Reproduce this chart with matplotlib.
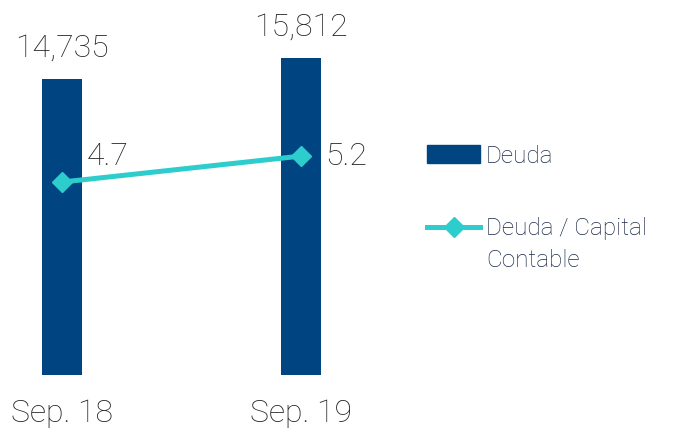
import matplotlib
matplotlib.use("Agg")
import matplotlib.pyplot as plt
from matplotlib.lines import Line2D
from matplotlib.patches import Patch

plt.rcParams['font.family'] = ['Roboto', 'DejaVu Sans']

periods = ['Sep. 18', 'Sep. 19']
deuda = [14735, 15812]
ratio = [4.7, 5.2]

navy = '#004481'
aqua = '#2DCCCD'
txt = '#222222'
legtxt = '#1A2948'

fig = plt.figure(figsize=(6.77, 4.32), dpi=100)
ax = fig.add_axes([0.0, 0.132, 0.535, 0.845])
x = range(len(periods))
ax.bar(x, deuda, width=0.167, color=navy, zorder=1)
ax.set_xlim(-0.259, 1.255)
ax.set_ylim(0, 18200)

for i, v in enumerate(deuda):
    ax.annotate(f'{v:,}', (i, v), xytext=(0, 12), textcoords='offset points',
                ha='center', va='bottom', fontsize=23, color=txt, fontweight='light')

ax2 = ax.twinx()
ax2.plot(x, ratio, color=aqua, lw=3.6, marker='D', markersize=10, zorder=3)
ax2.set_ylim(0.99, 8.01)
ax2.annotate(f'{ratio[0]}', (0, ratio[0]), xytext=(18, 8), textcoords='offset points',
             ha='left', va='bottom', fontsize=23, color=txt, fontweight='light')
ax2.annotate(f'{ratio[1]}', (1, ratio[1]), xytext=(17, 0), textcoords='offset points',
             ha='left', va='center', fontsize=23, color=txt, fontweight='light')

for a in (ax, ax2):
    for s in a.spines.values():
        s.set_visible(False)
    a.set_yticks([])
ax.set_xticks(list(x))
ax.set_xticklabels(periods, fontsize=23, color=txt, fontweight='light')
ax.tick_params(axis='x', length=0, pad=17)

handles = [Patch(color=navy),
           Line2D([0], [0], color=aqua, lw=3.6, marker='D', markersize=10)]
leg = fig.legend(handles, ['Deuda', 'Deuda / Capital'], loc='upper left',
                 bbox_to_anchor=(0.617, 0.688), frameon=False,
                 prop={'size': 17.5, 'weight': 'light'},
                 labelcolor=legtxt, handlelength=2.15, handletextpad=0.25,
                 labelspacing=2.05, borderaxespad=0)

# second line of the ratio label sits under the first, handle stays on line one
fig.canvas.draw()
bb = leg.get_texts()[1].get_window_extent()
fig.text(bb.x0 / fig.dpi / 6.77, (bb.y0 - 32) / fig.dpi / 4.32, 'Contable',
         fontsize=17.5, fontweight='light', color=legtxt, ha='left', va='bottom')

fig.savefig('out.png', dpi=100)
